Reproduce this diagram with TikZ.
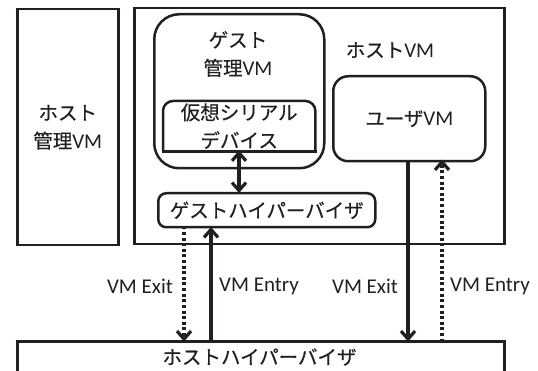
\documentclass[tikz,border=0pt]{standalone}
\usepackage{fontspec}
\setmainfont{Carlito}
\newfontfamily\jp{Noto Sans CJK JP}[FakeBold=0.4,AutoFakeBold=0.4]
\newcommand\jpt[1]{{\jp\bfseries #1}}
\usetikzlibrary{arrows.meta}
\definecolor{ink}{HTML}{231F20}
\tikzset{
  box/.style={draw=ink, line width=2.5pt, inner sep=0pt, anchor=north west, text=ink,
    font=\fontsize{19.5}{28}\selectfont, align=center},
  lbl/.style={text=ink, font=\fontsize{21}{26}\selectfont, inner sep=0pt},
  jtxt/.style={text=ink, font=\fontsize{19.5}{28}\selectfont, inner sep=0pt, align=center},
  tip/.style={line width=3.2pt, draw=ink},
  dotline/.style={line width=3.2pt, draw=ink, dash pattern=on 3pt off 2.6pt},
  harrow/.style={-{Straight Barb[length=8pt,width=14pt]}},
  darrow/.style={{Straight Barb[length=8pt,width=14pt]}-{Straight Barb[length=8pt,width=14pt]}},
}
\begin{document}
\begin{tikzpicture}[x=1pt,y=-1pt]
\useasboundingbox[fill=white] (0,0) rectangle (538,371);
% host management VM
\node[box, minimum width=101pt, minimum height=236pt] (hmvm) at (16,8) {};
\node[jtxt] (hmvmt) at (hmvm.center) {\jpt{ホスト}\\\jpt{管理}{\fontsize{21}{28}\selectfont VM}};
% host VM
\node[box, minimum width=370pt, minimum height=236pt] (hvm) at (133,7) {};
\node[jtxt] (hvmt) at (390,50) {\jpt{ホスト}{\fontsize{21}{28}\selectfont VM}};
% guest management VM
\node[box, rounded corners=25pt, minimum width=170pt, minimum height=154pt] (gmvm) at (153,13) {};
\node[jtxt] (gmvmt) at (238,54) {\jpt{ゲスト}\\\jpt{管理}{\fontsize{21}{28}\selectfont VM}};
% virtual serial device
\node[inner sep=0pt, minimum width=152pt, minimum height=50pt, anchor=north west] (sd) at (163,101) {};
\draw[ink, line width=2.5pt, rounded corners=10pt] (sd.south west) -- (sd.north west) -- (sd.north east) -- (sd.south east);
\draw[ink, line width=2.5pt] ([xshift=-1.25pt]sd.south west) -- ([xshift=1.25pt]sd.south east);
\node[jtxt] (sdt) at (sd.center) {\jpt{仮想シリアル}\\\jpt{デバイス}};
% user VM
\node[box, rounded corners=15pt, minimum width=152pt, minimum height=85pt] (uvm) at (332,75) {\jpt{ユーザ}{\fontsize{21}{28}\selectfont VM}};
% guest hypervisor
\node[box, rounded corners=8pt, minimum width=217pt, minimum height=34pt] (ghyp) at (157,192) {\jpt{ゲストハイパーバイザ}};
% host hypervisor
\node[box, minimum width=487pt, minimum height=40pt] (hhyp) at (16,340) {};
\node[jtxt] (hhypt) at (259.5,357) {\jpt{ホストハイパーバイザ}};
% connector positions
\coordinate (c1) at (184,0);
\coordinate (c2) at (211,0);
\coordinate (c3) at (408,0);
\coordinate (c4) at (442,0);
\coordinate (c5) at (239,0);
% connectors
\draw[tip, darrow] ([yshift=1pt]c5 |- sd.south) -- ([yshift=-1pt]c5 |- ghyp.north);
\draw[dotline, harrow] ([yshift=2pt]c1 |- ghyp.south) -- ([yshift=-1.5pt]c1 |- hhyp.north);
\draw[tip, harrow] ([yshift=-1.5pt]c2 |- hhyp.north) -- ([yshift=1.5pt]c2 |- ghyp.south);
\draw[tip, harrow] ([yshift=1.5pt]c3 |- uvm.south) -- ([yshift=-1.5pt]c3 |- hhyp.north);
\draw[dotline, harrow] ([yshift=-1.5pt]c4 |- hhyp.north) -- ([yshift=3pt]c4 |- uvm.south);
% labels
\node[lbl] (l1) at (140,286) {VM Exit};
\node[lbl] (l2) at (259,286) {VM Entry};
\node[lbl] (l3) at (365,286) {VM Exit};
\node[lbl] (l4) at (490,286) {VM Entry};
\end{tikzpicture}
\end{document}
